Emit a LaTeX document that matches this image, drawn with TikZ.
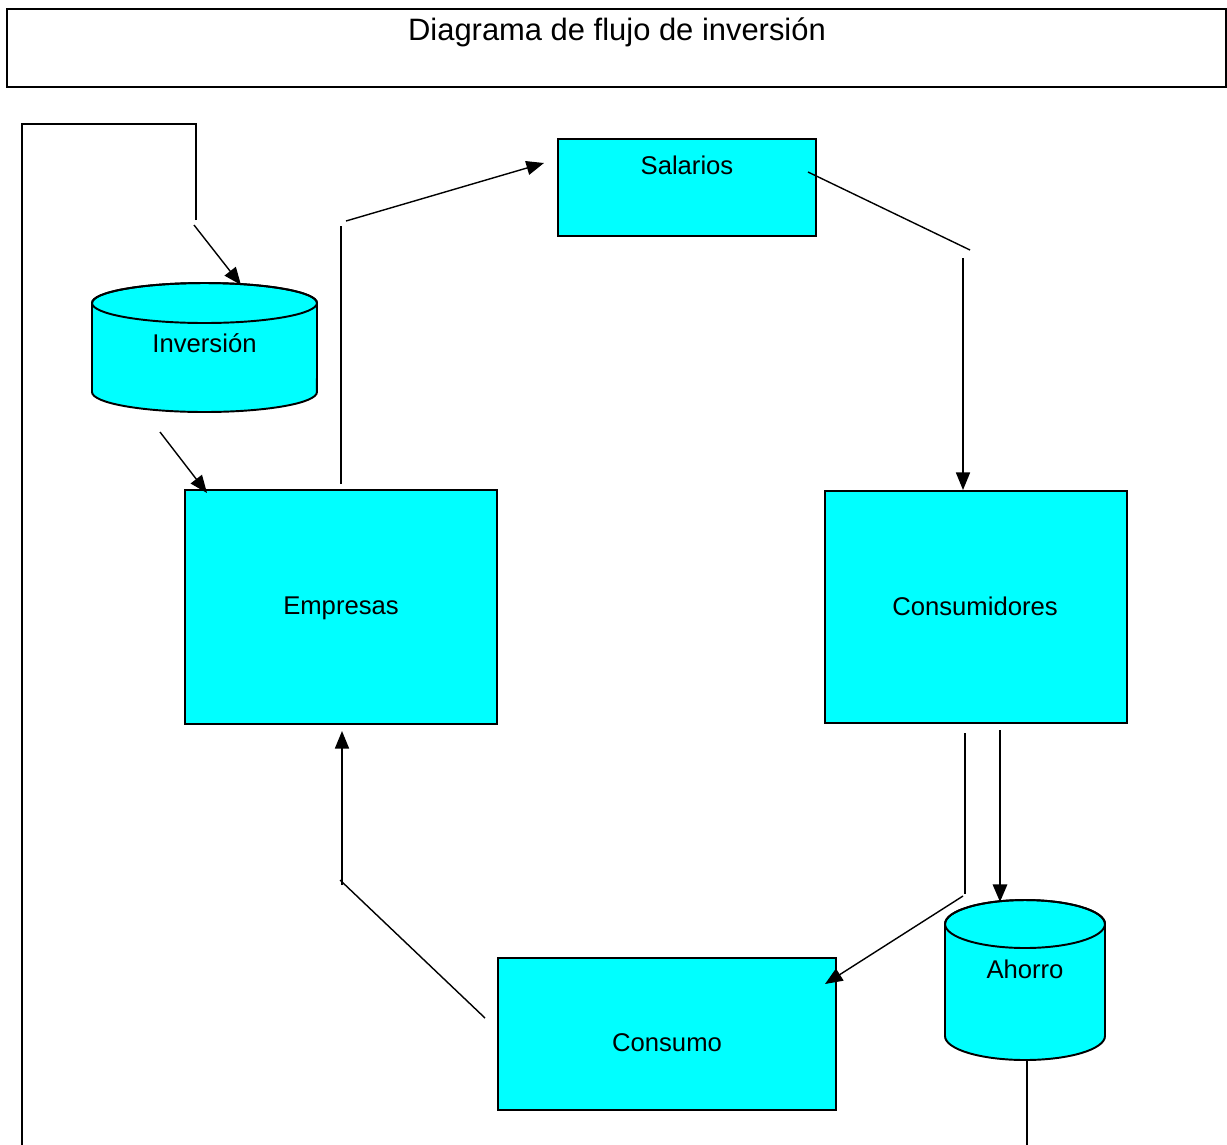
\documentclass[tikz,border=0pt]{standalone}
\usepackage{fontspec}
\setmainfont{Liberation Sans}
\usetikzlibrary{arrows.meta}
\definecolor{boxcyan}{HTML}{00FFFF}
\tikzset{
  box/.style={draw=black, line width=1.1pt, fill=boxcyan, inner sep=0pt},
  lbl/.style={font=\fontsize{14.6}{17}\selectfont, inner sep=0pt},
  conn/.style={line width=0.8pt},
  arr/.style={conn, -{Triangle[length=10pt,width=8pt]}},
}
\begin{document}
\begin{tikzpicture}[x=0.02cm, y=0.02cm]
\useasboundingbox (0,0) rectangle (1227,-1144);

% title
\draw[line width=1.1pt] (7,-9) rectangle (1226,-87);
\node[font=\fontsize{17.6}{20}\selectfont, inner sep=0pt] (title) at (617,-32) {Diagrama de flujo de inversión};

% boxes
\node[box, minimum width=6.24cm, minimum height=4.68cm] (emp) at (341,-607) {};
\node[lbl] (empt) at (341,-608) {Empresas};
\node[box, minimum width=5.16cm, minimum height=1.94cm] (sal) at (687,-187.5) {};
\node[lbl] (salt) at (687,-165) {Salarios};
\node[box, minimum width=6.04cm, minimum height=4.64cm] (con) at (976,-607) {};
\node[lbl] (cont) at (975,-606) {Consumidores};
\node[box, minimum width=6.76cm, minimum height=3.04cm] (cmo) at (667,-1034) {};
\node[lbl] (cmot) at (667,-1043) {Consumo};

% cylinders
\filldraw[box] (92,-303) -- (92,-392) arc[start angle=180,end angle=360,x radius=2.25cm,y radius=0.4cm]
  -- (317,-303) arc[start angle=0,end angle=180,x radius=2.25cm,y radius=0.4cm] -- cycle;
\draw[line width=1.1pt] (204.5,-303) ellipse[x radius=2.25cm,y radius=0.4cm];
\node[lbl] (inv) at (204.5,-343) {Inversión};

\filldraw[box] (945,-924) -- (945,-1036) arc[start angle=180,end angle=360,x radius=1.6cm,y radius=0.48cm]
  -- (1105,-924) arc[start angle=0,end angle=180,x radius=1.6cm,y radius=0.48cm] -- cycle;
\draw[line width=1.1pt] (1025,-924) ellipse[x radius=1.6cm,y radius=0.48cm];
\node[lbl] (aho) at (1025,-969) {Ahorro};

% coordinates
\coordinate (l1) at (196,-220);
\coordinate (l2) at (196,-124);
\coordinate (l3) at (22,-124);
\coordinate (l4) at (22,-1150);
\coordinate (i1) at (194,-225);
\coordinate (i2) at (241,-285);
\coordinate (i3) at (160,-432);
\coordinate (i4) at (207,-493);
\coordinate (e1) at (341,-484);
\coordinate (e2) at (341,-226);
\coordinate (e3) at (346,-221);
\coordinate (s1) at (544,-163);
\coordinate (s2) at (808,-172);
\coordinate (s3) at (970,-250);
\coordinate (s4) at (963,-258);
\coordinate (c1) at (963,-490);
\coordinate (c2) at (965,-733);
\coordinate (c3) at (965,-894);
\coordinate (c4) at (963,-896);
\coordinate (m1) at (825,-984);
\coordinate (c5) at (1000,-730);
\coordinate (a1) at (1000,-902);
\coordinate (a2) at (1027,-1060);
\coordinate (a3) at (1027,-1150);
\coordinate (m2) at (485,-1018);
\coordinate (m3) at (340,-880);
\coordinate (m4) at (342,-885);
\coordinate (e4) at (342,-731);

% connectors
\draw[line width=1pt] (l1) -- (l2) -- (l3) -- (l4);
\draw[arr] (i1) -- (i2);
\draw[arr] (i3) -- (i4);
\draw[conn] (e1) -- (e2);
\draw[arr] (e3) -- (s1);
\draw[conn] (s2) -- (s3);
\draw[arr] (s4) -- (c1);
\draw[conn] (c2) -- (c3);
\draw[arr] (c4) -- (m1);
\draw[conn, line width=1.6pt, -{Triangle[length=10pt,width=8pt]}] (c5) -- (a1);
\draw[line width=1pt] (a2) -- (a3);
\draw[conn] (m2) -- (m3);
\draw[arr] (m4) -- (e4);
\end{tikzpicture}
\end{document}
